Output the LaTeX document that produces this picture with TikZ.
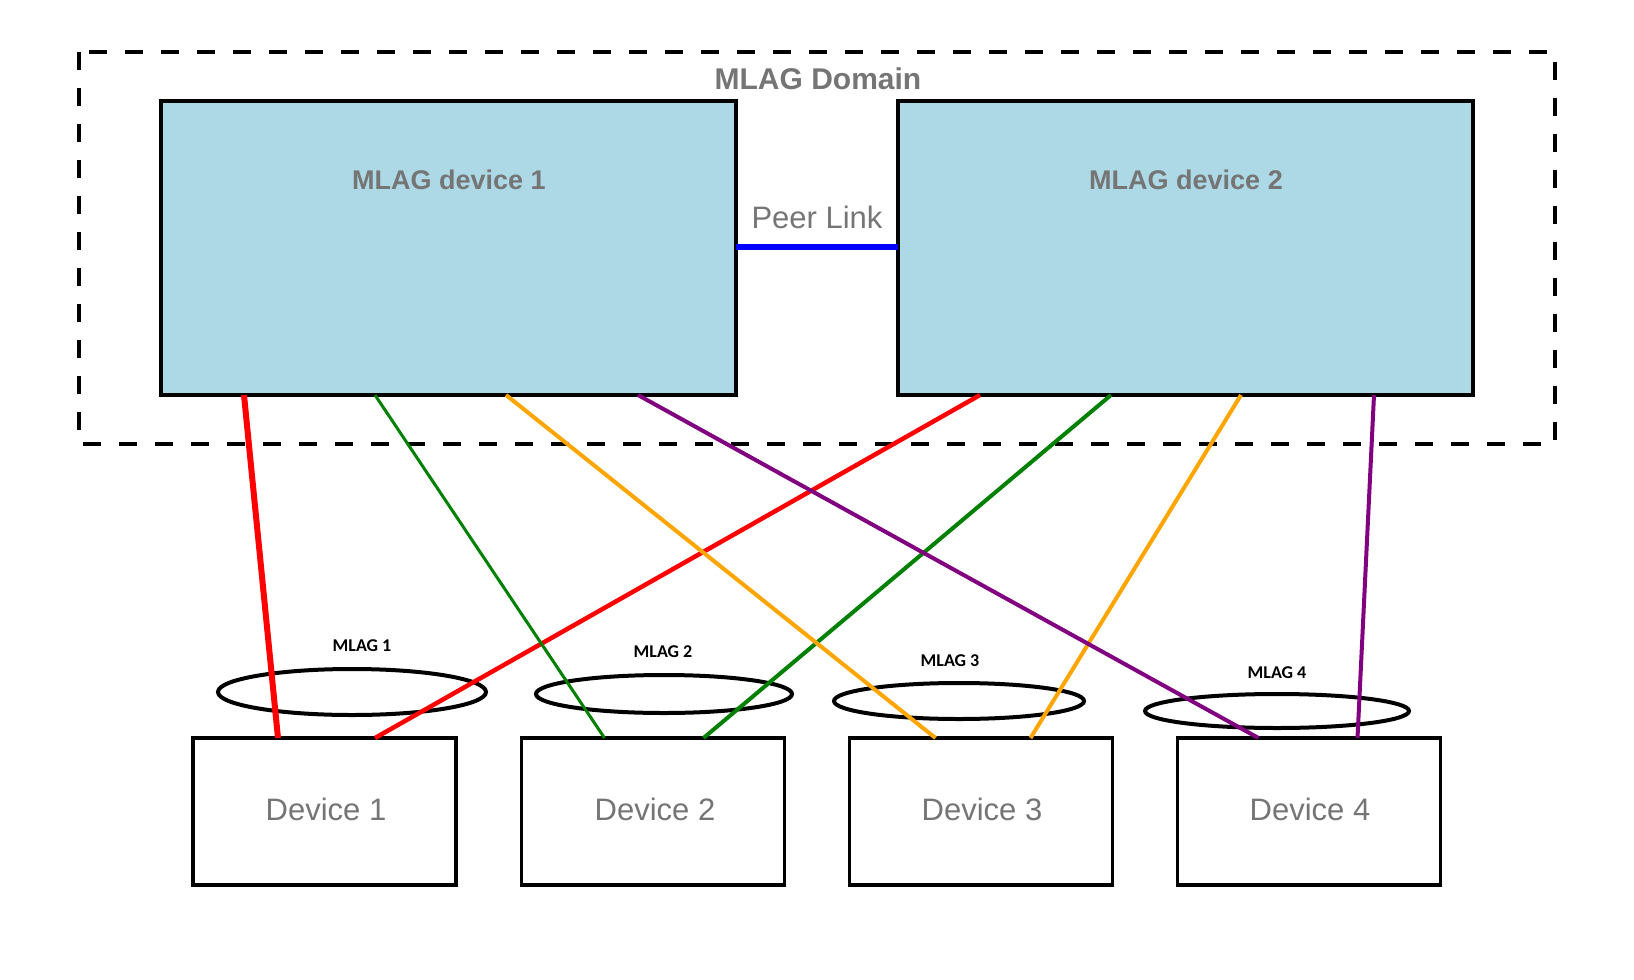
\documentclass[tikz,border=0pt]{standalone}
\usepackage{fontspec}
\setmainfont{Liberation Sans}
\newfontfamily\labfont{Carlito}
\usetikzlibrary{shapes.geometric}
\definecolor{txtgray}{RGB}{117,117,117}
\definecolor{boxblue}{RGB}{173,216,230}
\definecolor{lnred}{RGB}{255,0,0}
\definecolor{lngreen}{RGB}{0,128,0}
\definecolor{lnorange}{RGB}{255,165,0}
\definecolor{lnpurple}{RGB}{128,0,128}
\definecolor{lnblue}{RGB}{0,0,255}
\tikzset{
  mlagbox/.style={draw=black, line width=4pt, fill=boxblue, minimum width=575pt, minimum height=294pt, inner sep=0pt, outer sep=0pt},
  devbox/.style={draw=black, line width=3.5pt, fill=white, minimum width=263pt, minimum height=147pt, inner sep=0pt, outer sep=0pt},
  devtext/.style={text=txtgray, font=\fontsize{31}{36}\selectfont, inner sep=0pt},
  lagring/.style={ellipse, draw=black, line width=4pt, inner sep=0pt, outer sep=0pt},
  laglabel/.style={font=\labfont\bfseries\fontsize{18}{20}\selectfont, text=black, inner sep=0pt},
  headtext/.style={text=txtgray, inner sep=0pt},
  link/.style={line width=4pt},
}
\begin{document}
\begin{tikzpicture}[x=1pt, y=-1pt]
\useasboundingbox (0,0) rectangle (1634,980);
% domain
\draw[line width=4pt, dash pattern=on 18pt off 18pt] (79,52) rectangle (1555,444);
\node[headtext, font=\bfseries\fontsize{30}{34}\selectfont] (domlabel) at (818,79) {MLAG Domain};
% MLAG devices
\node[mlagbox] (m1) at (448.5,248) {};
\node[mlagbox] (m2) at (1185.5,248) {};
\node[headtext, font=\bfseries\fontsize{27}{30}\selectfont] (m1label) at (449,180) {MLAG device 1};
\node[headtext, font=\bfseries\fontsize{27}{30}\selectfont] (m2label) at (1186,180) {MLAG device 2};
% peer link
\draw[lnblue, line width=5.5pt] (m1.east |- 0,247) -- (m2.west |- 0,247);
\node[headtext, font=\fontsize{31}{34}\selectfont] (peer) at (817,217) {Peer Link};
% devices
\node[devbox] (d1) at (324.5,811.5) {};
\node[devbox] (d2) at (653,811.5) {};
\node[devbox] (d3) at (981,811.5) {};
\node[devbox] (d4) at (1309,811.5) {};
\node[devtext] (t1) at (326,809.5) {Device 1};
\node[devtext] (t2) at (655,809.5) {Device 2};
\node[devtext] (t3) at (982,809.5) {Device 3};
\node[devtext] (t4) at (1310,809.5) {Device 4};
% MLAG rings
\node[lagring, minimum width=268pt, minimum height=46pt] (e1) at (352,692) {};
\node[lagring, minimum width=256pt, minimum height=38pt] (e2) at (664,694) {};
\node[lagring, minimum width=250pt, minimum height=36pt] (e3) at (959,701) {};
\node[lagring, minimum width=264pt, minimum height=34pt] (e4) at (1277,711) {};
\node[laglabel] (l1) at (362,646) {MLAG 1};
\node[laglabel] (l2) at (663,652) {MLAG 2};
\node[laglabel] (l3) at (950,661) {MLAG 3};
\node[laglabel] (l4) at (1277,673) {MLAG 4};
% links
\draw[link, lnred, line width=6pt] ([xshift=83pt]m1.south west) -- ([xshift=85pt]d1.north west);
\draw[link, lnred, line width=4.5pt] ([xshift=82pt]m2.south west) -- ([xshift=182pt]d1.north west);
\draw[link, lngreen, line width=3pt] ([xshift=214pt]m1.south west) -- ([xshift=83pt]d2.north west);
\draw[link, lngreen] ([xshift=213pt]m2.south west) -- ([xshift=182pt]d2.north west);
\draw[link, lnorange] ([xshift=345pt]m1.south west) -- ([xshift=86pt]d3.north west);
\draw[link, lnorange] ([xshift=343pt]m2.south west) -- ([xshift=181pt]d3.north west);
\draw[link, lnpurple] ([xshift=477pt]m1.south west) -- ([xshift=81pt]d4.north west);
\draw[link, lnpurple] ([xshift=476pt]m2.south west) -- ([xshift=180pt]d4.north west);
\end{tikzpicture}
\end{document}
